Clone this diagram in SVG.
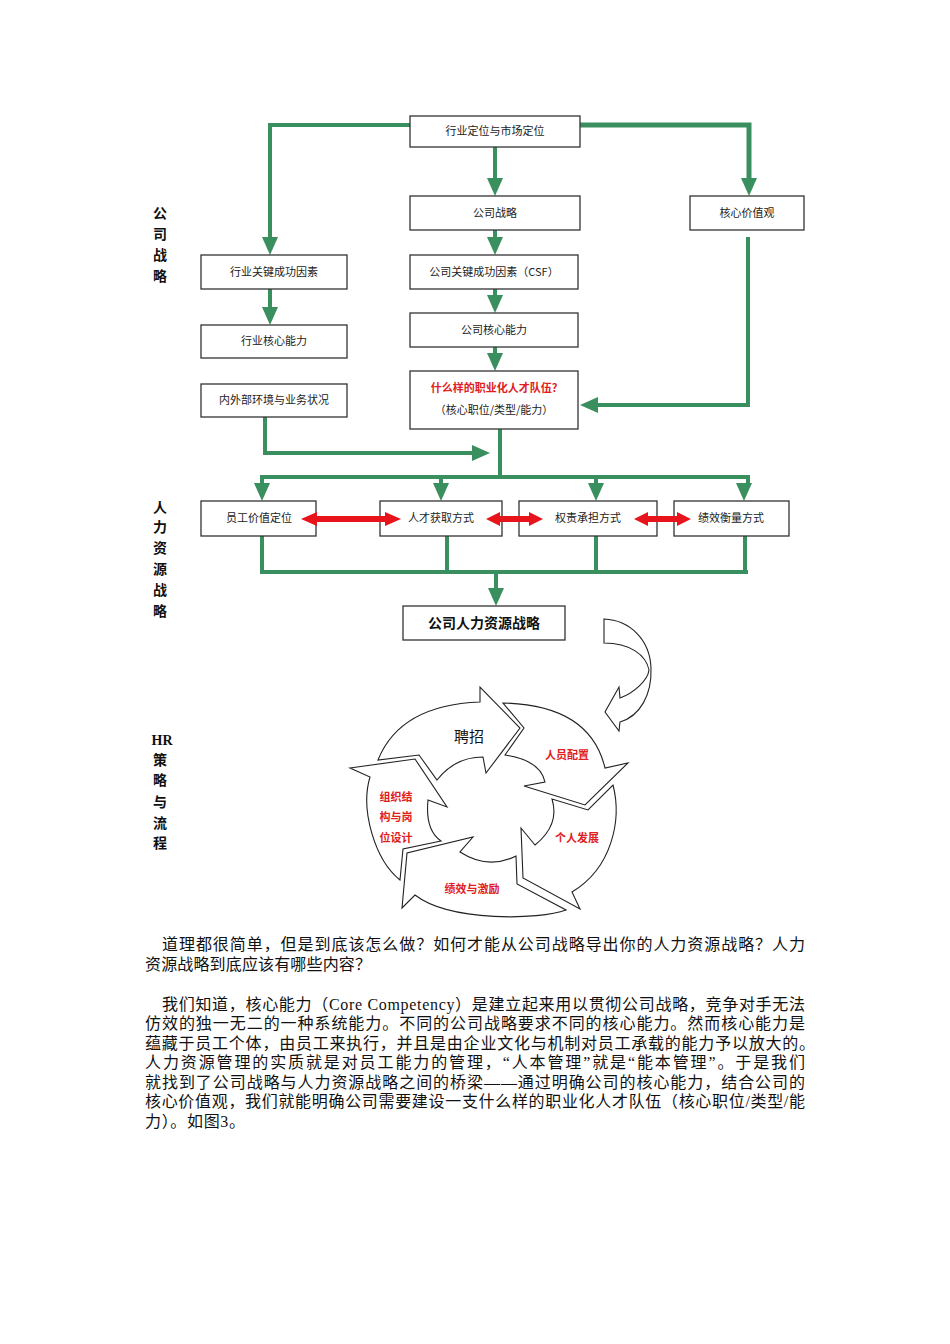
<svg xmlns="http://www.w3.org/2000/svg" xmlns:xlink="http://www.w3.org/1999/xlink" width="950" height="1344" viewBox="0 0 950 1344">
<style>
.bg{fill:#ffffff}
.box{fill:#ffffff;stroke:#333333;stroke-width:1.3}
.t{font-family:"Noto Sans CJK SC","Liberation Sans",sans-serif;font-size:11px;fill:#222222;text-anchor:middle}
.tr{font-family:"Noto Sans CJK SC","Liberation Sans",sans-serif;font-size:11px;font-weight:bold;fill:#e0201c;text-anchor:middle}
.tb{font-family:"Noto Sans CJK SC","Liberation Sans",sans-serif;font-size:14px;font-weight:bold;fill:#111111;text-anchor:middle}
.side{font-family:"Liberation Serif","Noto Sans CJK SC",serif;font-size:14px;font-weight:bold;fill:#111111;text-anchor:middle}
.g{fill:none;stroke:#3a8f5e;stroke-width:4;stroke-linejoin:miter}
.ah{fill:#3a8f5e}
.red{fill:#e8141c}
.cyc{fill:#ffffff;stroke:#222222;stroke-width:1.1;stroke-linejoin:miter}
.ct{font-family:"Noto Sans CJK SC","Liberation Sans",sans-serif;font-size:11px;font-weight:bold;fill:#e0201c;text-anchor:middle}
.p{font-family:"Liberation Serif","Noto Sans CJK SC",serif;font-size:16px;fill:#111111}
</style>
<defs>
<path id="ah" d="M0,0 L-8,-18 L8,-18 Z"/>
</defs>
<rect class="bg" x="0" y="0" width="950" height="1344"/>

<g id="side-labels">
<text class="side" x="160" y="218">公</text>
<text class="side" x="160" y="239">司</text>
<text class="side" x="160" y="260">战</text>
<text class="side" x="160" y="281">略</text>
<text class="side" x="160" y="512">人</text>
<text class="side" x="160" y="532">力</text>
<text class="side" x="160" y="553">资</text>
<text class="side" x="160" y="574">源</text>
<text class="side" x="160" y="595">战</text>
<text class="side" x="160" y="616">略</text>
<text class="side" x="162" y="745">HR</text>
<text class="side" x="160" y="765">策</text>
<text class="side" x="160" y="785">略</text>
<text class="side" x="160" y="807">与</text>
<text class="side" x="160" y="828">流</text>
<text class="side" x="160" y="848">程</text>
</g>

<g id="connectors">
<polyline class="g" points="410,125 270,125 270,238"/>
<use href="#ah" class="ah" transform="translate(270,255)"/>
<polyline class="g" points="580,125 749,125 749,179" style="stroke-width:5"/>
<use href="#ah" class="ah" transform="translate(749,196)"/>
<line class="g" x1="495" y1="147" x2="495" y2="179"/>
<use href="#ah" class="ah" transform="translate(495,196)"/>
<line class="g" x1="495" y1="230" x2="495" y2="238"/>
<use href="#ah" class="ah" transform="translate(495,255)"/>
<line class="g" x1="495" y1="289" x2="495" y2="296"/>
<use href="#ah" class="ah" transform="translate(495,313)"/>
<line class="g" x1="495" y1="347" x2="495" y2="354"/>
<use href="#ah" class="ah" transform="translate(495,371)"/>
<line class="g" x1="270" y1="289" x2="270" y2="308"/>
<use href="#ah" class="ah" transform="translate(270,325)"/>
<polyline class="g" points="748,237 748,405 597,405"/>
<use href="#ah" class="ah" transform="translate(580,405) rotate(90)"/>
<polyline class="g" points="265,417 265,453 473,453"/>
<use href="#ah" class="ah" transform="translate(490,453) rotate(-90)"/>
<line class="g" x1="500" y1="429" x2="500" y2="477"/>
<polyline class="g" points="262,484 262,477 748,477 748,484"/>
<line class="g" x1="441" y1="477" x2="441" y2="484"/>
<line class="g" x1="596" y1="477" x2="596" y2="484"/>
<use href="#ah" class="ah" transform="translate(262,501)"/>
<use href="#ah" class="ah" transform="translate(441,501)"/>
<use href="#ah" class="ah" transform="translate(596,501)"/>
<use href="#ah" class="ah" transform="translate(744,501)"/>
<polyline class="g" points="262,536 262,572 748,572"/>
<line class="g" x1="447" y1="536" x2="447" y2="572"/>
<line class="g" x1="596" y1="536" x2="596" y2="572"/>
<line class="g" x1="745" y1="536" x2="745" y2="572"/>
<line class="g" x1="496" y1="572" x2="496" y2="589"/>
<use href="#ah" class="ah" transform="translate(496,606)"/>
</g>

<g id="n-top"><rect class="box" x="410" y="116" width="170" height="31"/><text class="t" x="495" y="135">行业定位与市场定位</text></g>
<g id="n-strategy"><rect class="box" x="410" y="196" width="170" height="34"/><text class="t" x="495" y="217">公司战略</text></g>
<g id="n-values"><rect class="box" x="690" y="196" width="114" height="34"/><text class="t" x="747" y="217">核心价值观</text></g>
<g id="n-ind-ksf"><rect class="box" x="201" y="255" width="146" height="34"/><text class="t" x="274" y="276">行业关键成功因素</text></g>
<g id="n-csf"><rect class="box" x="410" y="255" width="168" height="34"/><text class="t" x="494" y="276">公司关键成功因素（CSF）</text></g>
<g id="n-ind-core"><rect class="box" x="201" y="325" width="146" height="33"/><text class="t" x="274" y="345">行业核心能力</text></g>
<g id="n-core"><rect class="box" x="410" y="313" width="168" height="34"/><text class="t" x="494" y="334">公司核心能力</text></g>
<g id="n-env"><rect class="box" x="201" y="384" width="146" height="33"/><text class="t" x="274" y="404">内外部环境与业务状况</text></g>
<g id="n-team"><rect class="box" x="410" y="371" width="168" height="58"/><text class="tr" x="494" y="392">什么样的职业化人才队伍?</text><text class="t" x="494" y="414">（核心职位/类型/能力）</text></g>
<g id="n-emp"><rect class="box" x="201" y="501" width="115" height="35"/><text class="t" x="259" y="522">员工价值定位</text></g>
<g id="n-acq"><rect class="box" x="380" y="501" width="122" height="35"/><text class="t" x="441" y="522">人才获取方式</text></g>
<g id="n-resp"><rect class="box" x="519" y="501" width="138" height="35"/><text class="t" x="588" y="522">权责承担方式</text></g>
<g id="n-perf"><rect class="box" x="674" y="501" width="115" height="35"/><text class="t" x="731" y="522">绩效衡量方式</text></g>
<g id="n-hrs"><rect class="box" x="403" y="606" width="162" height="34"/><text class="tb" x="484" y="628">公司人力资源战略</text></g>

<g id="red-arrows">
<path class="red" d="M301,519 L317,512 L317,516 L385,516 L385,512 L401,519 L385,526 L385,522 L317,522 L317,526 Z"/>
<path class="red" d="M486,519 L500,512 L500,516 L529,516 L529,512 L543,519 L529,526 L529,522 L500,522 L500,526 Z"/>
<path class="red" d="M634,519 L648,512 L648,516 L677,516 L677,512 L691,519 L677,526 L677,522 L648,522 L648,526 Z"/>
</g>

<g id="curved-arrow">
<path class="cyc" d="M604,619 C630,620 650,640 651,668 C652,695 640,716 620,722 L619,731 L605,712 L619,687 L620,698 C634,693 648,680 649,670 C646,655 630,643 604,643 Z"/>
</g>

<g id="cycle">
<g id="c-recruit"><path class="cyc" d="M378,760 Q400,705 480,702 L480,687 L520,728 L486,773 L483,757 Q455,757 437,780 L419,755 Z"/><text x="469" y="742" style="font-family:'Noto Sans CJK SC',sans-serif;font-size:15px;fill:#111;text-anchor:middle">聘招</text></g>
<g id="c-staff"><path class="cyc" d="M503,703 Q590,705 605,768 L628,763 L585,805 L524,786 L545,782 Q540,760 505,755 L524,728 Z"/><text class="ct" x="567" y="759">人员配置</text></g>
<g id="c-dev"><path class="cyc" d="M613,785 C622,820 612,868 572,892 L580,909 L523,878 L521,828 L535,845 Q560,825 552,799 L588,810 Z"/><text class="ct" x="577" y="842">个人发展</text></g>
<g id="c-perf"><path class="cyc" d="M566,910 C540,920 450,922 415,895 L402,908 L407,853 L473,837 L460,852 Q488,870 516,856 L517,884 Z"/><text class="ct" x="472" y="893">绩效与激励</text></g>
<g id="c-org"><path class="cyc" d="M400,880 C375,860 360,810 370,777 L350,768 L415,759 L447,807 L428,800 Q425,830 441,841 L403,849 Z"/><text class="ct" x="396" y="801">组织结</text><text class="ct" x="396" y="821">构与岗</text><text class="ct" x="396" y="842">位设计</text></g>
</g>

<g id="body-text">
<text class="p" x="162" y="950" textLength="643" lengthAdjust="spacing">道理都很简单，但是到底该怎么做？如何才能从公司战略导出你的人力资源战略？人力</text>
<text class="p" x="145" y="970" textLength="226" lengthAdjust="spacing">资源战略到底应该有哪些内容？</text>
<text class="p" x="162" y="1010" textLength="643" lengthAdjust="spacing">我们知道，核心能力（Core Competency）是建立起来用以贯彻公司战略，竞争对手无法</text>
<text class="p" x="145" y="1029" textLength="660" lengthAdjust="spacing">仿效的独一无二的一种系统能力。不同的公司战略要求不同的核心能力。然而核心能力是</text>
<text class="p" x="145" y="1049" textLength="670" lengthAdjust="spacing">蕴藏于员工个体，由员工来执行，并且是由企业文化与机制对员工承载的能力予以放大的。</text>
<text class="p" x="145" y="1068" textLength="660" lengthAdjust="spacing">人力资源管理的实质就是对员工能力的管理，“人本管理”就是“能本管理”。于是我们</text>
<text class="p" x="145" y="1088" textLength="660" lengthAdjust="spacing">就找到了公司战略与人力资源战略之间的桥梁——通过明确公司的核心能力，结合公司的</text>
<text class="p" x="145" y="1107" textLength="660" lengthAdjust="spacing">核心价值观，我们就能明确公司需要建设一支什么样的职业化人才队伍（核心职位/类型/能</text>
<text class="p" x="145" y="1127" textLength="100" lengthAdjust="spacing">力）。如图3。</text>
</g>
</svg>
